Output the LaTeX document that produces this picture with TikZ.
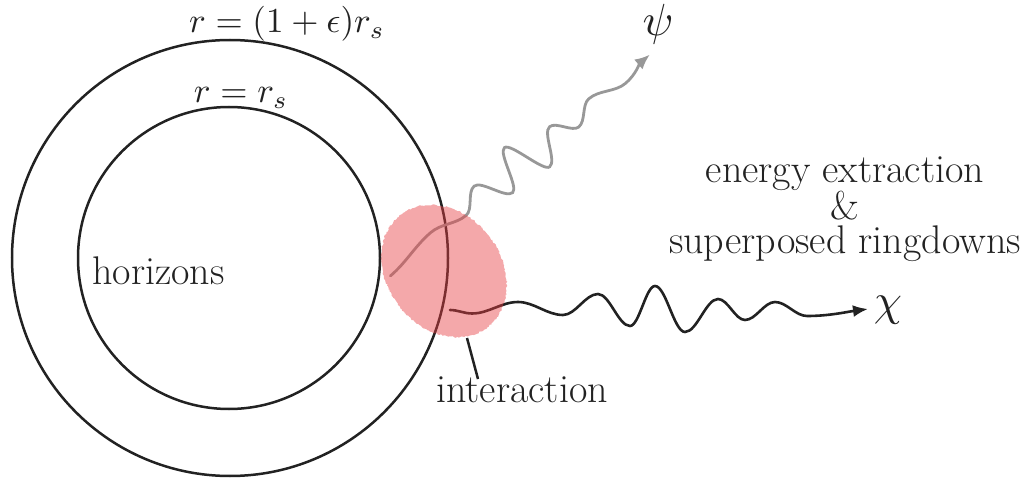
\documentclass[tikz,border=0pt]{standalone}
\usetikzlibrary{arrows.meta,decorations.pathmorphing}
\definecolor{ink}{RGB}{34,34,34}
\definecolor{wavegray}{RGB}{152,152,152}
\definecolor{blobred}{RGB}{231,62,66}
\newcommand{\bigmath}[2]{\scalebox{#1}{\fontsize{10}{12}\selectfont$#2$}}
\begin{document}
\begin{tikzpicture}[x=1pt,y=1pt,
  lbl/.style={text=ink, font=\fontsize{40}{34}\selectfont, inner sep=0pt},
  rlbl/.style={text=ink, inner sep=0pt},
  ring/.style={draw=ink, line width=2.5pt},
  blackwave/.style={draw=ink, line width=2.6pt, line cap=round, -{Latex[length=15pt,width=12pt]}},
  graywave/.style={draw=wavegray, line width=2.8pt, line cap=round, -{Latex[length=15pt,width=13pt]}},
  pointer/.style={draw=ink, line width=2.5pt},
  blobstyle/.style={fill=blobred, fill opacity=0.45}]
\useasboundingbox (0,0) rectangle (1029,-481);
% horizons
\draw[ring] (230,-258) circle[radius=218];
\draw[ring] (229,-258) circle[radius=151];
% labels
\node[rlbl, anchor=base] (outerlbl) at (287,-33) {\bigmath{3.5}{r=(1+\epsilon)r_s}};
\node[rlbl, anchor=base] (innerlbl) at (241,-103) {\bigmath{3.5}{r=r_s}};
\node[lbl, anchor=base west] (horizons) at (92,-285) {horizons};
\node[lbl, anchor=base] (interaction) at (522,-402) {interaction};
\node[lbl, anchor=base, align=center] (extract) at (845,-254)
  {energy extraction\\\&\\superposed ringdowns};
\node[rlbl] (psi) at (658,-24) {\bigmath{4.5}{\psi}};
\node[rlbl] (chi) at (888,-310) {\bigmath{4.5}{\chi}};
\coordinate (chitip) at (868,-309);
% gray wave (psi), in a frame along its direction of travel
\begin{scope}[shift={(465,-217)}, rotate=40.6]
\coordinate (psitip) at (246,3);
\draw[graywave] (-95,3.8)
  .. controls +(21.4,0) and +(-21.4,0) .. (-36,10.5)
  .. controls +(13.8,0) and +(-13.8,0) .. (2,0.5)
  .. controls +(9.1,0) and +(-9.1,0) .. (27,17.5)
  .. controls +(9.1,0) and +(-9.1,0) .. (52,-12.5)
  .. controls +(8.3,0) and +(-8.3,0) .. (75,27)
  .. controls +(8,0) and +(-8,0) .. (97,-17)
  .. controls +(9.4,0) and +(-9.4,0) .. (123,13.5)
  .. controls +(8,0) and +(-8,0) .. (145,-5.7)
  .. controls +(9.4,0) and +(-9.4,0) .. (171,9.2)
  .. controls +(13.8,0) and +(-13.8,0) .. (209,-3)
  .. controls +(13.4,0) and +(-13.4,0) .. (psitip);
\end{scope}
% black wave (chi)
\draw[blackwave] (450,-310)
  .. controls +(8,0) and +(-8,0) .. (472,-313.5)
  .. controls +(16.7,0) and +(-16.7,0) .. (518,-302)
  .. controls +(16.3,0) and +(-16.3,0) .. (563,-315)
  .. controls +(12.7,0) and +(-12.7,0) .. (598,-294)
  .. controls +(11.6,0) and +(-11.6,0) .. (630,-326)
  .. controls +(9.1,0) and +(-9.1,0) .. (655,-286)
  .. controls +(10.9,0) and +(-10.9,0) .. (685,-332)
  .. controls +(12,0) and +(-12,0) .. (718,-299)
  .. controls +(9.8,0) and +(-9.8,0) .. (745,-320)
  .. controls +(10.9,0) and +(-10.9,0) .. (775,-302)
  .. controls +(11.6,0) and +(-11.6,0) .. (807,-316)
  .. controls +(22,0) and +(-22,-3) .. (chitip);
% pointer to interaction
\coordinate (ptrtop) at (467,-338);
\coordinate (ptrbot) at (478,-379);
\draw[pointer] (ptrtop) -- (ptrbot);
% interaction blob
\fill[blobstyle, rotate around={37.7:(444,-271)},
  decorate, decoration={random steps, segment length=1.5pt, amplitude=0.8pt}]
  (444,-271) ellipse [x radius=57, y radius=71];
\end{tikzpicture}
\end{document}
